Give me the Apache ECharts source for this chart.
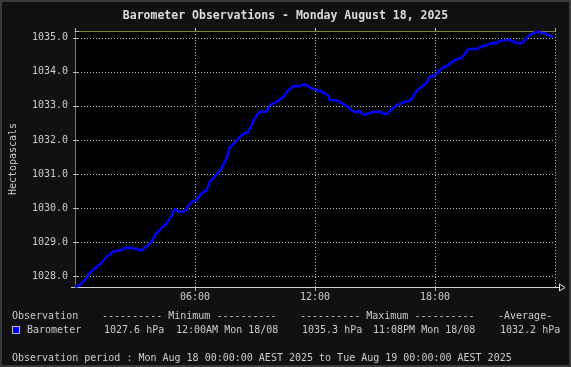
<!DOCTYPE html>
<html>
<head>
<meta charset="utf-8">
<title>Barometer Observations</title>
<script src="https://cdn.jsdelivr.net/npm/echarts@6/dist/echarts.min.js"></script>
<style>
  html, body { margin: 0; padding: 0; background: #111; }
  #chart { width: 571px; height: 367px; }
</style>
</head>
<body>
<div id="chart"></div>
<script>
// observation time, hours since midnight Mon 18/08
const hours = [
  0, 0.24, 0.5, 0.7, 1.0, 1.3, 1.57, 1.9, 2.23, 2.57, 2.98, 3.3, 3.57, 3.8,
  4.0, 4.23, 4.57, 4.82, 4.98, 5.23, 5.48, 5.73, 6.07, 6.32, 6.57, 6.73, 6.98,
  7.32, 7.57, 7.73, 8.07, 8.32, 8.65, 8.98, 9.23, 9.57, 9.73, 10.07, 10.4,
  10.57, 10.9, 11.23, 11.48, 11.82, 12.0, 12.32, 12.65, 12.73, 13.15, 13.4,
  13.65, 13.82, 14.07, 14.23, 14.4, 14.65, 14.98, 15.23, 15.48, 15.65, 15.82,
  16.07, 16.4, 16.73, 16.9, 17.07, 17.32, 17.57, 17.73, 17.98, 18.15, 18.32,
  18.65, 18.98, 19.32, 19.48, 19.65, 20.07, 20.32, 20.57, 20.82, 21.07, 21.23,
  21.73, 21.9, 22.15, 22.32, 22.57, 22.73, 23.07, 23.32, 23.48, 23.73, 23.9
]
// barometer, hPa
const pressure = [
  1027.68, 1027.74, 1027.89, 1028.07, 1028.23, 1028.38, 1028.56, 1028.72,
  1028.75, 1028.84, 1028.81, 1028.75, 1028.87, 1028.99, 1029.21, 1029.36,
  1029.55, 1029.77, 1029.97, 1029.88, 1029.9, 1030.13, 1030.24, 1030.43,
  1030.51, 1030.77, 1030.92, 1031.17, 1031.46, 1031.78, 1031.97, 1032.14,
  1032.24, 1032.63, 1032.83, 1032.83, 1033.02, 1033.12, 1033.25, 1033.4,
  1033.58, 1033.58, 1033.64, 1033.51, 1033.49, 1033.42, 1033.32, 1033.17,
  1033.15, 1033.05, 1032.98, 1032.86, 1032.81, 1032.86, 1032.73, 1032.78,
  1032.83, 1032.83, 1032.76, 1032.78, 1032.9, 1033.02, 1033.1, 1033.15,
  1033.27, 1033.44, 1033.56, 1033.68, 1033.86, 1033.89, 1034.0, 1034.1,
  1034.2, 1034.34, 1034.42, 1034.51, 1034.67, 1034.67, 1034.74, 1034.78,
  1034.85, 1034.84, 1034.91, 1034.94, 1034.89, 1034.84, 1034.84, 1034.99,
  1035.08, 1035.18, 1035.14, 1035.14, 1035.06, 1035.03
]

// summary table below the chart
const statHeader = ['Observation', '---------- Minimum ----------', '---------- Maximum ----------', '-Average-']
const statRow = ['Barometer', '1027.6 hPa', '12:00AM Mon 18/08', '1035.3 hPa', '11:08PM Mon 18/08', '1032.2 hPa']
const periodText = 'Observation period : Mon Aug 18 00:00:00 AEST 2025 to Tue Aug 19 00:00:00 AEST 2025'

const FONT = '"DejaVu Sans Mono", monospace'
const TEXT = '#cccccc'
const GRID = '#a8c8a0'
const OLIVE = '#80803c'
const yMin = 1027.68
const yMax = 1035.2

function txt(x, y, s) {
  return {
    type: 'text',
    x: x,
    y: y,
    silent: true,
    style: { text: s, font: '10px ' + FONT, fill: TEXT, verticalAlign: 'middle' }
  }
}

const chart = echarts.init(document.getElementById('chart'))

chart.setOption({
  backgroundColor: '#111111',
  animation: false,
  title: {
    text: 'Barometer Observations - Monday August 18, 2025',
    left: 'center',
    top: 5,
    textStyle: { color: '#dddddd', fontFamily: FONT, fontSize: 11.5, fontWeight: 'bold' }
  },
  grid: {
    left: 75,
    right: 16,
    top: 31,
    bottom: 80,
    show: true,
    backgroundColor: '#000000',
    borderWidth: 0
  },
  xAxis: [{
    type: 'value',
    min: 0,
    max: 24,
    interval: 6,
    axisLine: { lineStyle: { color: '#d0d0d0', width: 1 } },
    axisTick: { length: 4, lineStyle: { color: GRID } },
    axisLabel: {
      margin: 5,
      color: TEXT,
      fontFamily: FONT,
      fontSize: 10,
      showMinLabel: false,
      showMaxLabel: false,
      formatter(v) {
        return (v < 10 ? '0' : '') + v + ':00'
      }
    },
    splitLine: { lineStyle: { color: GRID, type: [1, 2], width: 1 } }
  }, {
    type: 'value',
    position: 'top',
    min: 0,
    max: 24,
    interval: 6,
    axisLine: { lineStyle: { color: OLIVE, width: 1 } },
    axisTick: { length: 3, lineStyle: { color: GRID } },
    axisLabel: { show: false },
    splitLine: { show: false }
  }],
  yAxis: [{
    type: 'value',
    min: yMin,
    max: yMax,
    splitNumber: 8,
    minInterval: 1,
    maxInterval: 1,
    name: 'Hectopascals',
    nameLocation: 'middle',
    nameGap: 57,
    nameTextStyle: { color: TEXT, fontFamily: FONT, fontSize: 10 },
    axisLine: { show: true, lineStyle: { color: '#a0d080', width: 1 } },
    axisTick: { show: true, length: 2, lineStyle: { color: GRID } },
    axisLabel: {
      margin: 7,
      color: TEXT,
      fontFamily: FONT,
      fontSize: 10,
      showMinLabel: false,
      showMaxLabel: false,
      formatter(v) {
        return v.toFixed(1)
      }
    },
    splitLine: { lineStyle: { color: GRID, type: [1, 2], width: 1 } }
  }, {
    type: 'value',
    position: 'right',
    min: yMin,
    max: yMax,
    splitNumber: 8,
    minInterval: 1,
    maxInterval: 1,
    axisLine: { show: true, lineStyle: { color: OLIVE, width: 1 } },
    axisTick: { show: true, length: 4, lineStyle: { color: GRID } },
    axisLabel: { show: false },
    splitLine: { show: false }
  }],
  series: [{
    name: 'Barometer',
    type: 'line',
    xAxisIndex: 0,
    yAxisIndex: 0,
    symbol: 'none',
    clip: false,
    lineStyle: { color: '#0000ff', width: 2.5 },
    data: hours.map((h, i) => [h, pressure[i]])
  }],
  graphic: [
    // outer frame
    { type: 'rect', silent: true, shape: { x: 1, y: 1, width: 569, height: 365 }, style: { fill: 'none', stroke: '#3a3a3a', lineWidth: 2 } },
    // x axis overhang and arrow
    { type: 'line', silent: true, shape: { x1: 71, y1: 287.5, x2: 75, y2: 287.5 }, style: { stroke: '#d0d0d0', lineWidth: 1 } },
    { type: 'line', silent: true, shape: { x1: 555, y1: 287.5, x2: 559, y2: 287.5 }, style: { stroke: '#d0d0d0', lineWidth: 1 } },
    { type: 'polygon', silent: true, shape: { points: [[559.5, 284], [565, 287.5], [559.5, 291]] }, style: { fill: '#111111', stroke: '#e0e0e0', lineWidth: 1 } },
    // summary
    txt(12, 316, statHeader[0]),
    txt(102, 316, statHeader[1]),
    txt(300, 316, statHeader[2]),
    txt(498, 316, statHeader[3]),
    { type: 'rect', silent: true, shape: { x: 12.5, y: 326.5, width: 7, height: 7 }, style: { fill: '#0000ff', stroke: '#c0c0c0', lineWidth: 1 } },
    txt(27, 330, statRow[0]),
    txt(104, 330, statRow[1]),
    txt(176, 330, statRow[2]),
    txt(302, 330, statRow[3]),
    txt(373, 330, statRow[4]),
    txt(500, 330, statRow[5]),
    txt(12, 358, periodText)
  ]
})
</script>
</body>
</html>
